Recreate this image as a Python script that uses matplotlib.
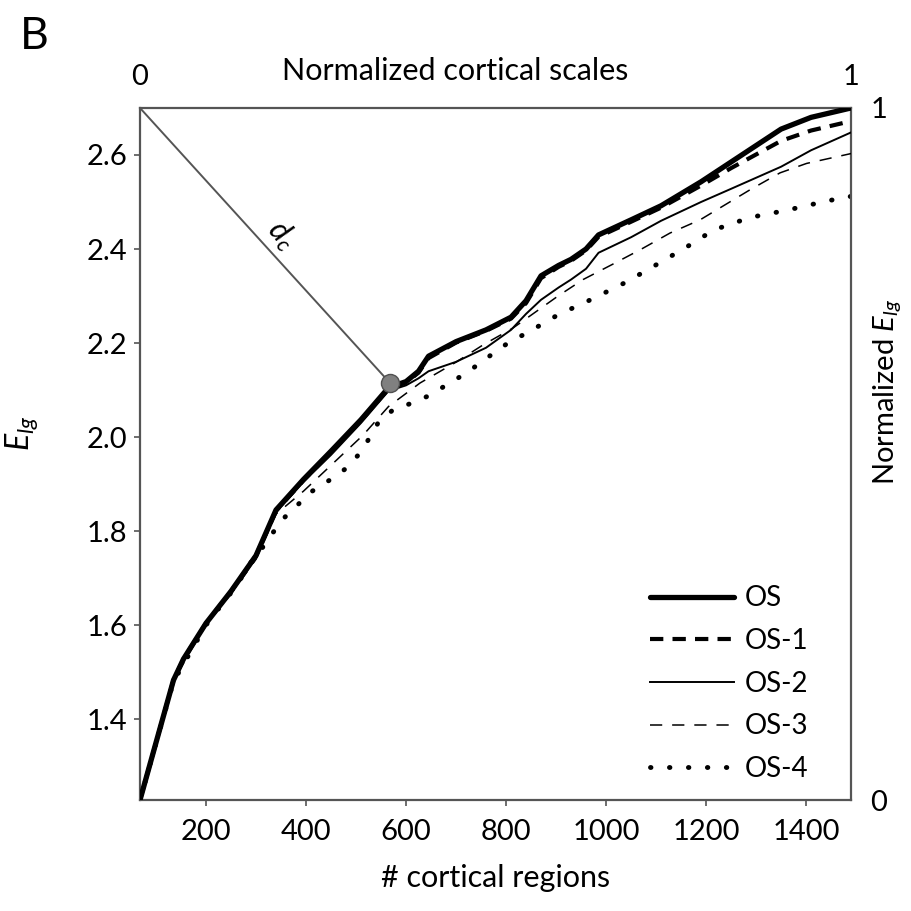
import numpy as np
import matplotlib
matplotlib.use('Agg')
import matplotlib.pyplot as plt

plt.rcParams['font.family'] = ['Lato', 'DejaVu Sans']
plt.rcParams['mathtext.fontset'] = 'custom'
plt.rcParams['mathtext.rm'] = 'Lato'
plt.rcParams['mathtext.it'] = 'Lato:italic'

# ---------------- data ----------------
x_common = [68, 100, 135, 155, 200, 250, 300, 340, 395, 450, 510, 565, 600, 625, 645,
            700, 760, 810, 840, 870, 905, 930, 960, 985, 1050, 1110, 1190, 1250, 1350,
            1410, 1490]
y_os = [1.228, 1.35, 1.483, 1.528, 1.604, 1.672, 1.748, 1.845, 1.91, 1.97, 2.037, 2.105,
        2.118, 2.14, 2.172, 2.203, 2.228, 2.255, 2.29, 2.343, 2.365, 2.378, 2.40, 2.43,
        2.462, 2.492, 2.543, 2.585, 2.655, 2.68, 2.70]
y_os1 = [1.228, 1.35, 1.483, 1.528, 1.604, 1.672, 1.748, 1.843, 1.908, 1.968, 2.035, 2.103,
         2.116, 2.137, 2.168, 2.201, 2.226, 2.252, 2.285, 2.338, 2.362, 2.375, 2.397, 2.426,
         2.458, 2.488, 2.535, 2.572, 2.63, 2.652, 2.672]
y_os2 = [1.228, 1.35, 1.483, 1.527, 1.602, 1.668, 1.743, 1.84, 1.905, 1.962, 2.03, 2.098,
         2.11, 2.125, 2.14, 2.16, 2.19, 2.228, 2.262, 2.292, 2.318, 2.335, 2.358, 2.392,
         2.425, 2.46, 2.50, 2.528, 2.575, 2.61, 2.648]
x_os3 = [68, 135, 200, 250, 300, 340, 395, 450, 514, 565, 628, 701, 754, 814, 904, 954,
         1014, 1071, 1128, 1188, 1288, 1348, 1401, 1490]
y_os3 = [1.228, 1.482, 1.602, 1.666, 1.74, 1.836, 1.885, 1.94, 2.004, 2.065, 2.115, 2.16,
         2.196, 2.232, 2.30, 2.335, 2.368, 2.400, 2.434, 2.462, 2.526, 2.562, 2.582, 2.603]
x_os4 = [68, 135, 200, 223, 244, 268, 288, 311, 334, 358, 411, 448, 481, 508, 528, 544,
         574, 611, 648, 681, 714, 748, 778, 808, 841, 904, 971, 1041, 1111, 1178, 1214,
         1288, 1364, 1441, 1490]
y_os4 = [1.228, 1.48, 1.60, 1.632, 1.66, 1.696, 1.731, 1.762, 1.797, 1.83, 1.884, 1.909,
         1.934, 1.966, 2.0, 2.03, 2.058, 2.072, 2.089, 2.111, 2.132, 2.157, 2.181, 2.203,
         2.221, 2.26, 2.293, 2.33, 2.373, 2.415, 2.44, 2.467, 2.483, 2.502, 2.512]

labels = ['OS', 'OS-1', 'OS-2', 'OS-3', 'OS-4']
dc_point = (568, 2.115)   # critical point on the curve
x_lim = (68, 1490)
y_lim = (1.228, 2.70)
x_ticks = [200, 400, 600, 800, 1000, 1200, 1400]
y_ticks = [1.4, 1.6, 1.8, 2.0, 2.2, 2.4, 2.6]

# ---------------- figure ----------------
fig = plt.figure(figsize=(9.12, 9.11), dpi=100)
ax = fig.add_axes([0.1535, 0.1218, 0.7797, 0.7597])

ax.plot(x_common, y_os, color='black', lw=3.8, solid_capstyle='round', label=labels[0], zorder=6)
ax.plot(x_common, y_os1, color='black', lw=3.0, linestyle=(0, (3.2, 2.2)), label=labels[1], zorder=5)
ax.plot(x_common, y_os2, color='black', lw=1.4, label=labels[2], zorder=4)
ax.plot(x_os3, y_os3, color='black', lw=1.1, linestyle=(0, (8, 6.5)), label=labels[3], zorder=3)
ax.plot(x_os4, y_os4, color='black', lw=3.5, linestyle=(0, (0.1, 3.8)),
        dash_capstyle='round', label=labels[4], zorder=2)

# d_c line from top-left corner to the critical point
ax.plot([x_lim[0], dc_point[0]], [y_lim[1], dc_point[1]], color='#555555', lw=1.4, zorder=7)
ax.plot(*dc_point, marker='o', ms=13, mfc='#808080', mec='#505050', mew=1.0, zorder=8)
ax.text(352, 2.43, r'$d_c$', fontsize=22, rotation=-48, ha='center', va='center',
        rotation_mode='anchor')

ax.set_xlim(*x_lim)
ax.set_ylim(*y_lim)
ax.set_xticks(x_ticks)
ax.set_yticks(y_ticks)
ax.set_yticklabels([f'{v:.1f}' for v in y_ticks])
ax.tick_params(labelsize=21, length=4, width=1.2, color='#555555', direction='out')
ax.tick_params(axis='x', pad=10)
ax.tick_params(axis='y', pad=5)
for s in ax.spines.values():
    s.set_color('#555555')
    s.set_linewidth(1.6)

ax.set_xlabel('# cortical regions', fontsize=22, labelpad=13)
ax.set_ylabel(r'$E_{lg}$', fontsize=23)
ax.yaxis.set_label_coords(-0.14, 0.53)

# top axis: normalized cortical scales
axt = ax.twiny()
axt.set_xlim(0, 1)
axt.set_xticks([0, 1])
axt.set_xticklabels(['0', '1'])
axt.tick_params(labelsize=21, length=0, pad=13)
axt.set_xlabel('Normalized cortical scales', fontsize=22)
axt.xaxis.set_label_coords(0.443, 1.04)
axt.xaxis.label.set_va('baseline')

# right axis: normalized E_lg
axr = ax.twinx()
axr.set_ylim(0, 1)
axr.set_yticks([0, 1])
axr.set_yticklabels(['0', '1'])
axr.tick_params(labelsize=21, length=0, pad=14)
axr.set_ylabel(r'Normalized $E_{lg}$', fontsize=21)
axr.yaxis.set_label_coords(1.028, 0.59)
for a in (axt, axr):
    for s in a.spines.values():
        s.set_visible(False)

leg = ax.legend(loc='lower right', bbox_to_anchor=(0.975, -0.01), frameon=False, fontsize=20,
                handlelength=3.0, handletextpad=0.4, labelspacing=0.6)

fig.text(0.022, 0.982, 'B', fontsize=32, ha='left', va='top')

fig.savefig('out.png', dpi=100)
